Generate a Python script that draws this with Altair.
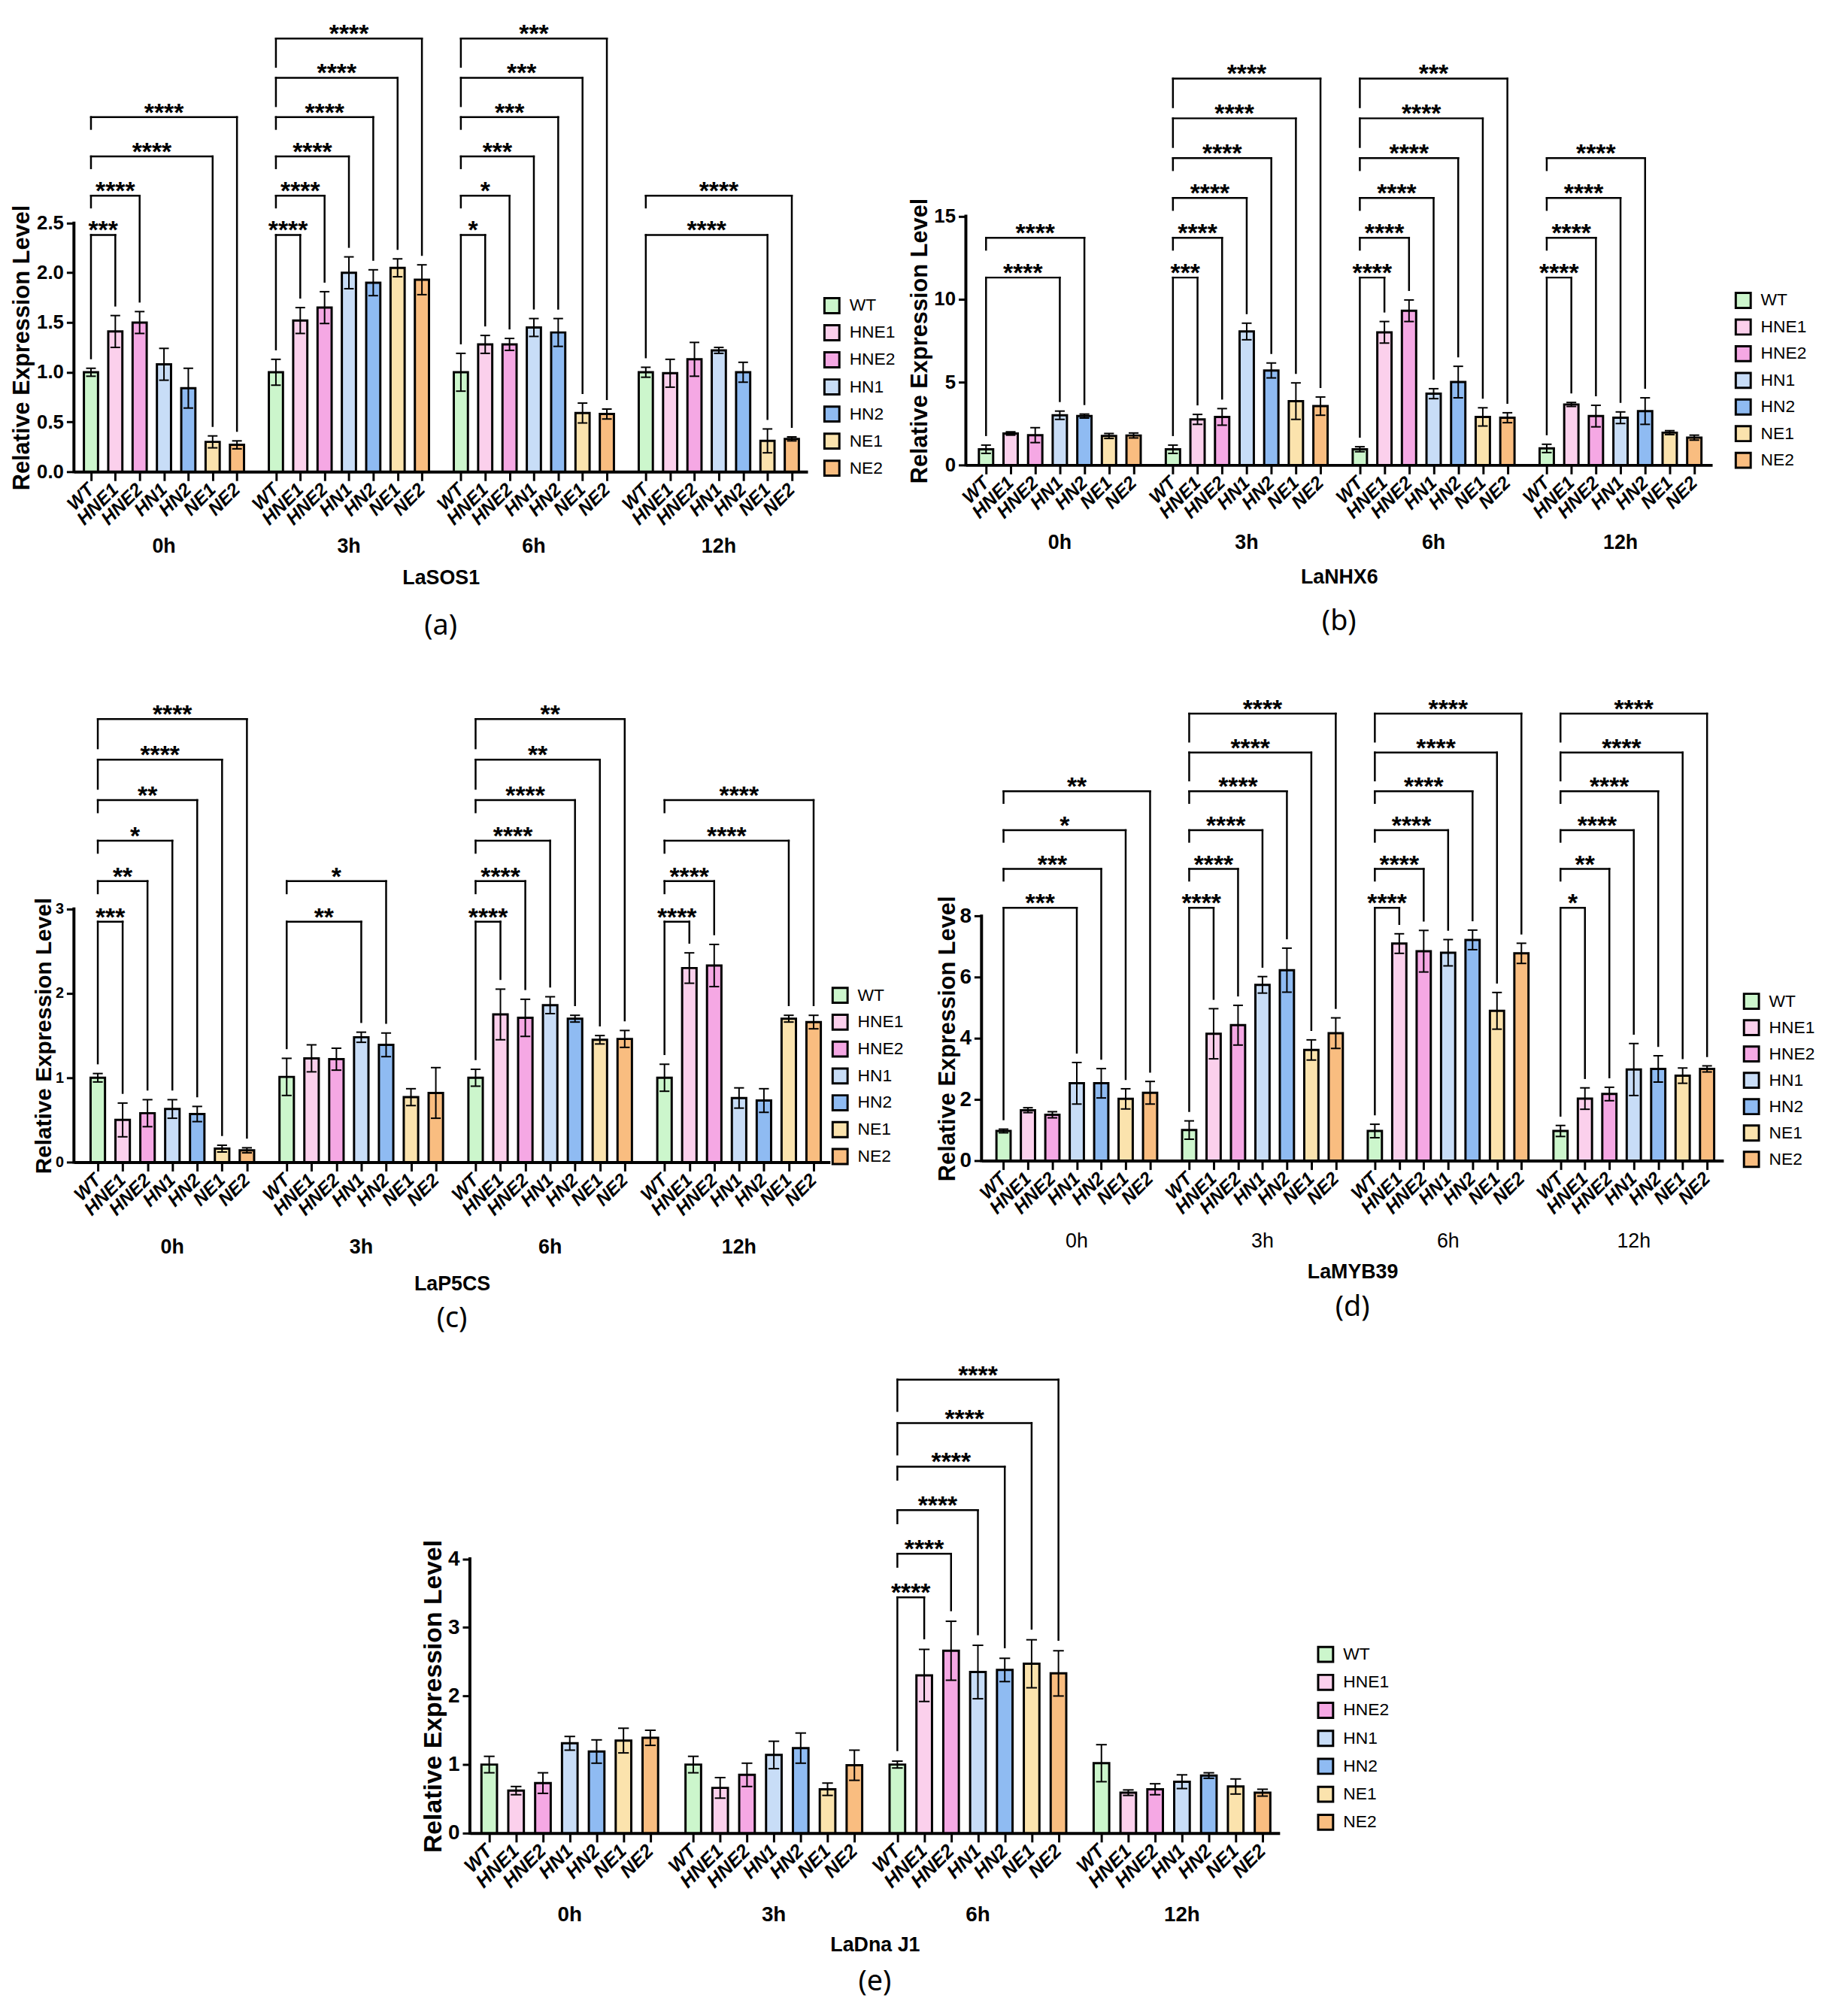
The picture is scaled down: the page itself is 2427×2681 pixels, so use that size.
import altair as alt
import pandas as pd

GENOTYPES = ["WT", "HNE1", "HNE2", "HN1", "HN2", "NE1", "NE2"]
TIMES = ["0h", "3h", "6h", "12h"]
COLORS = ["#ccf6cc", "#fbd0ec", "#f5a8e4", "#c8ddf7", "#8fbbf2", "#fbe3ad", "#f9bd80"]

# ---- LaSOS1 ----
SOS1_MEAN = [[1.00, 1.41, 1.50, 1.08, 0.84, 0.30, 0.27],
             [1.00, 1.52, 1.65, 2.00, 1.90, 2.05, 1.93],
             [1.00, 1.28, 1.28, 1.45, 1.40, 0.59, 0.58],
             [1.00, 0.99, 1.13, 1.22, 1.00, 0.31, 0.33]]
SOS1_ERR = [[0.04, 0.16, 0.11, 0.16, 0.20, 0.06, 0.04],
            [0.13, 0.13, 0.16, 0.16, 0.13, 0.09, 0.15],
            [0.19, 0.09, 0.06, 0.09, 0.14, 0.10, 0.05],
            [0.05, 0.14, 0.17, 0.03, 0.10, 0.12, 0.02]]
SOS1_SIG = [[("HNE1", "***"), ("HNE2", "****"), ("NE1", "****"), ("NE2", "****")],
            [("HNE1", "****"), ("HNE2", "****"), ("HN1", "****"), ("HN2", "****"), ("NE1", "****"), ("NE2", "****")],
            [("HNE1", "*"), ("HNE2", "*"), ("HN1", "***"), ("HN2", "***"), ("NE1", "***"), ("NE2", "***")],
            [("NE1", "****"), ("NE2", "****")]]

# ---- LaNHX6 ----
NHX6_MEAN = [[0.95, 1.90, 1.80, 3.00, 2.95, 1.75, 1.78],
             [0.95, 2.75, 2.90, 8.05, 5.70, 3.85, 3.55],
             [0.95, 8.00, 9.30, 4.30, 5.00, 2.90, 2.85],
             [1.00, 3.65, 2.95, 2.85, 3.25, 1.95, 1.65]]
NHX6_ERR = [[0.25, 0.10, 0.45, 0.25, 0.12, 0.15, 0.15],
            [0.25, 0.30, 0.50, 0.50, 0.45, 1.10, 0.55],
            [0.15, 0.65, 0.65, 0.30, 0.95, 0.55, 0.30],
            [0.25, 0.12, 0.65, 0.35, 0.80, 0.12, 0.15]]
NHX6_SIG = [[("HN1", "****"), ("HN2", "****")],
            [("HNE1", "***"), ("HNE2", "****"), ("HN1", "****"), ("HN2", "****"), ("NE1", "****"), ("NE2", "****")],
            [("HNE1", "****"), ("HNE2", "****"), ("HN1", "****"), ("HN2", "****"), ("NE1", "****"), ("NE2", "***")],
            [("HNE1", "****"), ("HNE2", "****"), ("HN1", "****"), ("HN2", "****")]]

# ---- LaP5CS ----
P5CS_MEAN = [[1.00, 0.50, 0.58, 0.63, 0.57, 0.16, 0.14],
             [1.01, 1.23, 1.22, 1.48, 1.39, 0.77, 0.82],
             [1.00, 1.75, 1.71, 1.86, 1.70, 1.45, 1.46],
             [1.00, 2.30, 2.33, 0.76, 0.73, 1.70, 1.66]]
P5CS_ERR = [[0.05, 0.20, 0.16, 0.11, 0.09, 0.04, 0.03],
            [0.22, 0.16, 0.13, 0.06, 0.14, 0.10, 0.30],
            [0.10, 0.30, 0.22, 0.10, 0.04, 0.05, 0.10],
            [0.16, 0.18, 0.25, 0.12, 0.14, 0.04, 0.08]]
P5CS_SIG = [[("HNE1", "***"), ("HNE2", "**"), ("HN1", "*"), ("HN2", "**"), ("NE1", "****"), ("NE2", "****")],
            [("HN1", "**"), ("HN2", "*")],
            [("HNE1", "****"), ("HNE2", "****"), ("HN1", "****"), ("HN2", "****"), ("NE1", "**"), ("NE2", "**")],
            [("HNE1", "****"), ("HNE2", "****"), ("NE1", "****"), ("NE2", "****")]]

# ---- LaMYB39 ----
MYB39_MEAN = [[0.97, 1.65, 1.50, 2.53, 2.53, 2.02, 2.22],
              [1.00, 4.15, 4.43, 5.75, 6.23, 3.62, 4.17],
              [0.97, 7.10, 6.85, 6.80, 7.22, 4.90, 6.78],
              [0.97, 2.03, 2.18, 2.98, 3.00, 2.78, 3.00]]
MYB39_ERR = [[0.06, 0.08, 0.10, 0.68, 0.48, 0.33, 0.37],
             [0.30, 0.82, 0.65, 0.27, 0.72, 0.33, 0.50],
             [0.22, 0.32, 0.68, 0.43, 0.32, 0.60, 0.33],
             [0.18, 0.35, 0.22, 0.85, 0.43, 0.25, 0.10]]
MYB39_SIG = [[("HN1", "***"), ("HN2", "***"), ("NE1", "*"), ("NE2", "**")],
             [("HNE1", "****"), ("HNE2", "****"), ("HN1", "****"), ("HN2", "****"), ("NE1", "****"), ("NE2", "****")],
             [("HNE1", "****"), ("HNE2", "****"), ("HN1", "****"), ("HN2", "****"), ("NE1", "****"), ("NE2", "****")],
             [("HNE1", "*"), ("HNE2", "**"), ("HN1", "****"), ("HN2", "****"), ("NE1", "****"), ("NE2", "****")]]

# ---- LaDna J1 ----
DNAJ1_MEAN = [[1.00, 0.62, 0.73, 1.31, 1.19, 1.35, 1.39],
              [1.00, 0.66, 0.85, 1.14, 1.24, 0.64, 0.99],
              [1.00, 2.30, 2.66, 2.35, 2.38, 2.47, 2.33],
              [1.02, 0.59, 0.64, 0.75, 0.84, 0.68, 0.59]]
DNAJ1_ERR = [[0.12, 0.06, 0.15, 0.10, 0.17, 0.18, 0.11],
             [0.12, 0.15, 0.17, 0.20, 0.22, 0.09, 0.22],
             [0.05, 0.38, 0.43, 0.39, 0.17, 0.35, 0.33],
             [0.27, 0.04, 0.08, 0.10, 0.04, 0.11, 0.05]]
DNAJ1_SIG = [[],
             [],
             [("HNE1", "****"), ("HNE2", "****"), ("HN1", "****"), ("HN2", "****"), ("NE1", "****"), ("NE2", "****")],
             []]

GROUP_STEP = 7.6
BAR_HALF = 0.29
CAP_HALF = 0.2
BOLD = "Liberation Sans, Arial, sans-serif"
LABEL_FONT = "Noto Sans, Open Sans, sans-serif"


def panel(p):
    mean, err, sig = p["mean"], p["err"], p["sig"]
    ticks = p["ticks"]
    tickmax = ticks[-1]
    H, W = p["H"], p["W"]
    pxu = H / p["ytop"]

    rows = []
    for g, t in enumerate(TIMES):
        for i, gname in enumerate(GENOTYPES):
            pos = g * GROUP_STEP + i
            m, e = mean[g][i], err[g][i]
            rows.append(dict(time=t, geno=gname, pos=pos, x0=pos - BAR_HALF, x1=pos + BAR_HALF,
                             c0=pos - CAP_HALF, c1=pos + CAP_HALF, mean=m,
                             lo=max(m - e, 0.0), hi=m + e, base=0.0))
    bars = pd.DataFrame(rows)

    gap = 0.04 * tickmax
    br = []
    for g, comps in enumerate(sig):
        for k, (target, stars) in enumerate(comps):
            j = GENOTYPES.index(target)
            xa = g * GROUP_STEP
            xb = xa + j
            level = p["lev0"] + k * p["step"]
            if k == 0:
                lb = mean[g][0] + err[g][0] + gap
            elif k < 4:
                lb = level - 0.3 * p["step"]
            else:
                lb = level - 0.72 * p["step"]
            rb = mean[g][j] + err[g][j] + gap
            br.append(dict(xa=xa, xb=xb, mid=(xa + xb) / 2, level=level, lb=lb, rb=rb, stars=stars))
    brk = pd.DataFrame(br)

    groups = pd.DataFrame([dict(time=t, pos=g * GROUP_STEP + 3) for g, t in enumerate(TIMES)])
    yline = pd.DataFrame([dict(y0=0.0, y1=float(tickmax))])

    xs = alt.Scale(domain=p["xdom"], nice=False, zero=False)
    ys = alt.Scale(domain=[0, p["ytop"]], nice=False, zero=False)
    xaxis = alt.Axis(values=list(bars["pos"]), labels=False, ticks=True, tickSize=12, tickWidth=3,
                     tickColor="black", domain=True, domainColor="black", domainWidth=4, grid=False,
                     title=p["gene"], titleFont=BOLD, titleFontSize=27, titleFontWeight="bold",
                     titleColor="black", titlePadding=p["tpad"])
    yaxis = alt.Axis(values=ticks, format=p["fmt"], domain=False, grid=False, tickSize=10, tickWidth=3,
                     tickColor="black", labelFont=BOLD, labelFontSize=p["lfs"], labelFontWeight="bold",
                     labelColor="black", labelPadding=4, title="Relative Expression Level",
                     titleFont=BOLD, titleFontSize=p["tfs"], titleFontWeight="bold", titleColor="black",
                     titlePadding=p["typad"], titleY=H - tickmax * pxu / 2)

    def X(f):
        return alt.X(f"{f}:Q", scale=xs, axis=xaxis)

    def Y(f):
        return alt.Y(f"{f}:Q", scale=ys, axis=yaxis)

    lpad = p.get("lpad", 0)
    legend = alt.Legend(title=None, orient="none", legendX=W + p["lx"] - lpad, legendY=p["ly"] - lpad,
                        symbolType="square", symbolSize=400, symbolStrokeColor="black",
                        symbolStrokeWidth=3, symbolOpacity=1, labelFont=BOLD, labelFontSize=23,
                        labelColor="black", rowPadding=p["rowpad"], labelOffset=12, padding=lpad)

    bar = alt.Chart(bars).mark_bar(stroke="black", strokeWidth=3).encode(
        x=X("x0"), x2="x1", y=Y("mean"), y2="base",
        color=alt.Color("geno:N", scale=alt.Scale(domain=GENOTYPES, range=COLORS), legend=legend))
    err_v = alt.Chart(bars).mark_rule(color="black", strokeWidth=2).encode(x=X("pos"), y=Y("lo"), y2="hi")
    cap_t = alt.Chart(bars).mark_rule(color="black", strokeWidth=2).encode(x=X("c0"), x2="c1", y=Y("hi"))
    cap_b = alt.Chart(bars).mark_rule(color="black", strokeWidth=2).encode(x=X("c0"), x2="c1", y=Y("lo"))

    bh = alt.Chart(brk).mark_rule(color="black", strokeWidth=2.5, strokeCap="square").encode(
        x=X("xa"), x2="xb", y=Y("level"))
    bl = alt.Chart(brk).mark_rule(color="black", strokeWidth=2.5, strokeCap="square").encode(
        x=X("xa"), y=Y("level"), y2="lb")
    bri = alt.Chart(brk).mark_rule(color="black", strokeWidth=2.5, strokeCap="square").encode(
        x=X("xb"), y=Y("level"), y2="rb")
    bt = alt.Chart(brk).mark_text(font=BOLD, fontSize=34, fontWeight="bold", baseline="alphabetic",
                                  dy=5, color="black").encode(x=X("mid"), y=Y("level"), text="stars")

    yl = alt.Chart(yline).mark_rule(color="black", strokeWidth=4, strokeCap="square").encode(
        x=alt.value(0), y=Y("y0"), y2="y1")

    glab = alt.Chart(bars).mark_text(angle=315, align="right", baseline="middle", font=BOLD,
                                     fontSize=p["gfs"], fontWeight="bold", fontStyle="italic",
                                     color="black").encode(x=X("pos"), y=alt.value(H + 20), text="geno")
    tlab = alt.Chart(groups).mark_text(font=BOLD, fontSize=p["tlfs"], fontWeight=p["gw"], baseline="middle",
                                       color="black").encode(x=X("pos"), y=alt.value(H + p["gly"]), text="time")

    return alt.layer(bar, err_v, cap_t, cap_b, bh, bl, bri, bt, yl, glab, tlab).properties(
        width=W, height=H,
        title=alt.TitleParams(text=p["label"], orient="bottom", font=LABEL_FONT, fontSize=38,
                              fontWeight="normal", color="black", offset=p["loff"]))


PA = dict(mean=SOS1_MEAN, err=SOS1_ERR, sig=SOS1_SIG, gene="LaSOS1", label="(a)",
          ticks=[0, 0.5, 1.0, 1.5, 2.0, 2.5], fmt=".1f", H=609, ytop=4.57, W=983, xdom=[-0.7, 29.45],
          lev0=2.38, step=0.395, lfs=26, tfs=31, typad=3, gly=100, tpad=116, loff=33, lx=21, ly=375,
          rowpad=3.3, gw="bold", gfs=25, tlfs=27)
PB = dict(mean=NHX6_MEAN, err=NHX6_ERR, sig=NHX6_SIG, gene="LaNHX6", label="(b)",
          ticks=[0, 5, 10, 15], fmt="d", H=600, ytop=27.0, W=1000, xdom=[-0.82, 29.53],
          lev0=11.3, step=2.4, lfs=26, tfs=31, typad=2, gly=104, tpad=124, loff=28, lx=30, ly=368,
          rowpad=2.7, gw="bold", gfs=25, tlfs=27)
PC = dict(mean=P5CS_MEAN, err=P5CS_ERR, sig=P5CS_SIG, gene="LaP5CS", label="(c)",
          ticks=[0, 1, 2, 3], fmt="d", H=641, ytop=5.67, W=1013, xdom=[-0.96, 29.46],
          lev0=2.85, step=0.48, lfs=20, tfs=30, typad=0, gly=114, tpad=137, loff=15, lx=2, ly=406,
          rowpad=3.0, gw="bold", gfs=25, tlfs=27)
PD = dict(mean=MYB39_MEAN, err=MYB39_ERR, sig=MYB39_SIG, gene="LaMYB39", label="(d)",
          ticks=[0, 2, 4, 6, 8], fmt="d", H=639, ytop=15.6, W=994, xdom=[-0.9, 29.47],
          lev0=8.27, step=1.27, lfs=28, tfs=31, typad=0, gly=108, tpad=123, loff=16, lx=26, ly=414,
          rowpad=2.3, gw="normal", gfs=25, tlfs=27)
PE = dict(mean=DNAJ1_MEAN, err=DNAJ1_ERR, sig=DNAJ1_SIG, gene="LaDna J1", label="(e)",
          ticks=[0, 1, 2, 3, 4], fmt="d", H=643, ytop=7.0, W=1085, xdom=[-0.72, 29.44],
          lev0=3.44, step=0.635, lfs=28, tfs=34, typad=2, gly=110, tpad=123, loff=18, lx=50, ly=392,
          rowpad=4.5, gw="bold", gfs=26, tlfs=28, lpad=40)

row1 = alt.hconcat(panel(PA), panel(PB), spacing=17).resolve_scale(color="independent").resolve_legend(color="independent")
row2 = alt.hconcat(panel(PC), panel(PD), spacing=42).resolve_scale(color="independent").resolve_legend(color="independent")
top = alt.vconcat(row1, row2, spacing=57).resolve_scale(color="independent").resolve_legend(color="independent")
chart = alt.vconcat(top, panel(PE), spacing=26, center=True).resolve_scale(
    color="independent").resolve_legend(color="independent").configure_view(stroke=None)

chart.save("out.html", embed_options={"renderer": "svg", "actions": False})
